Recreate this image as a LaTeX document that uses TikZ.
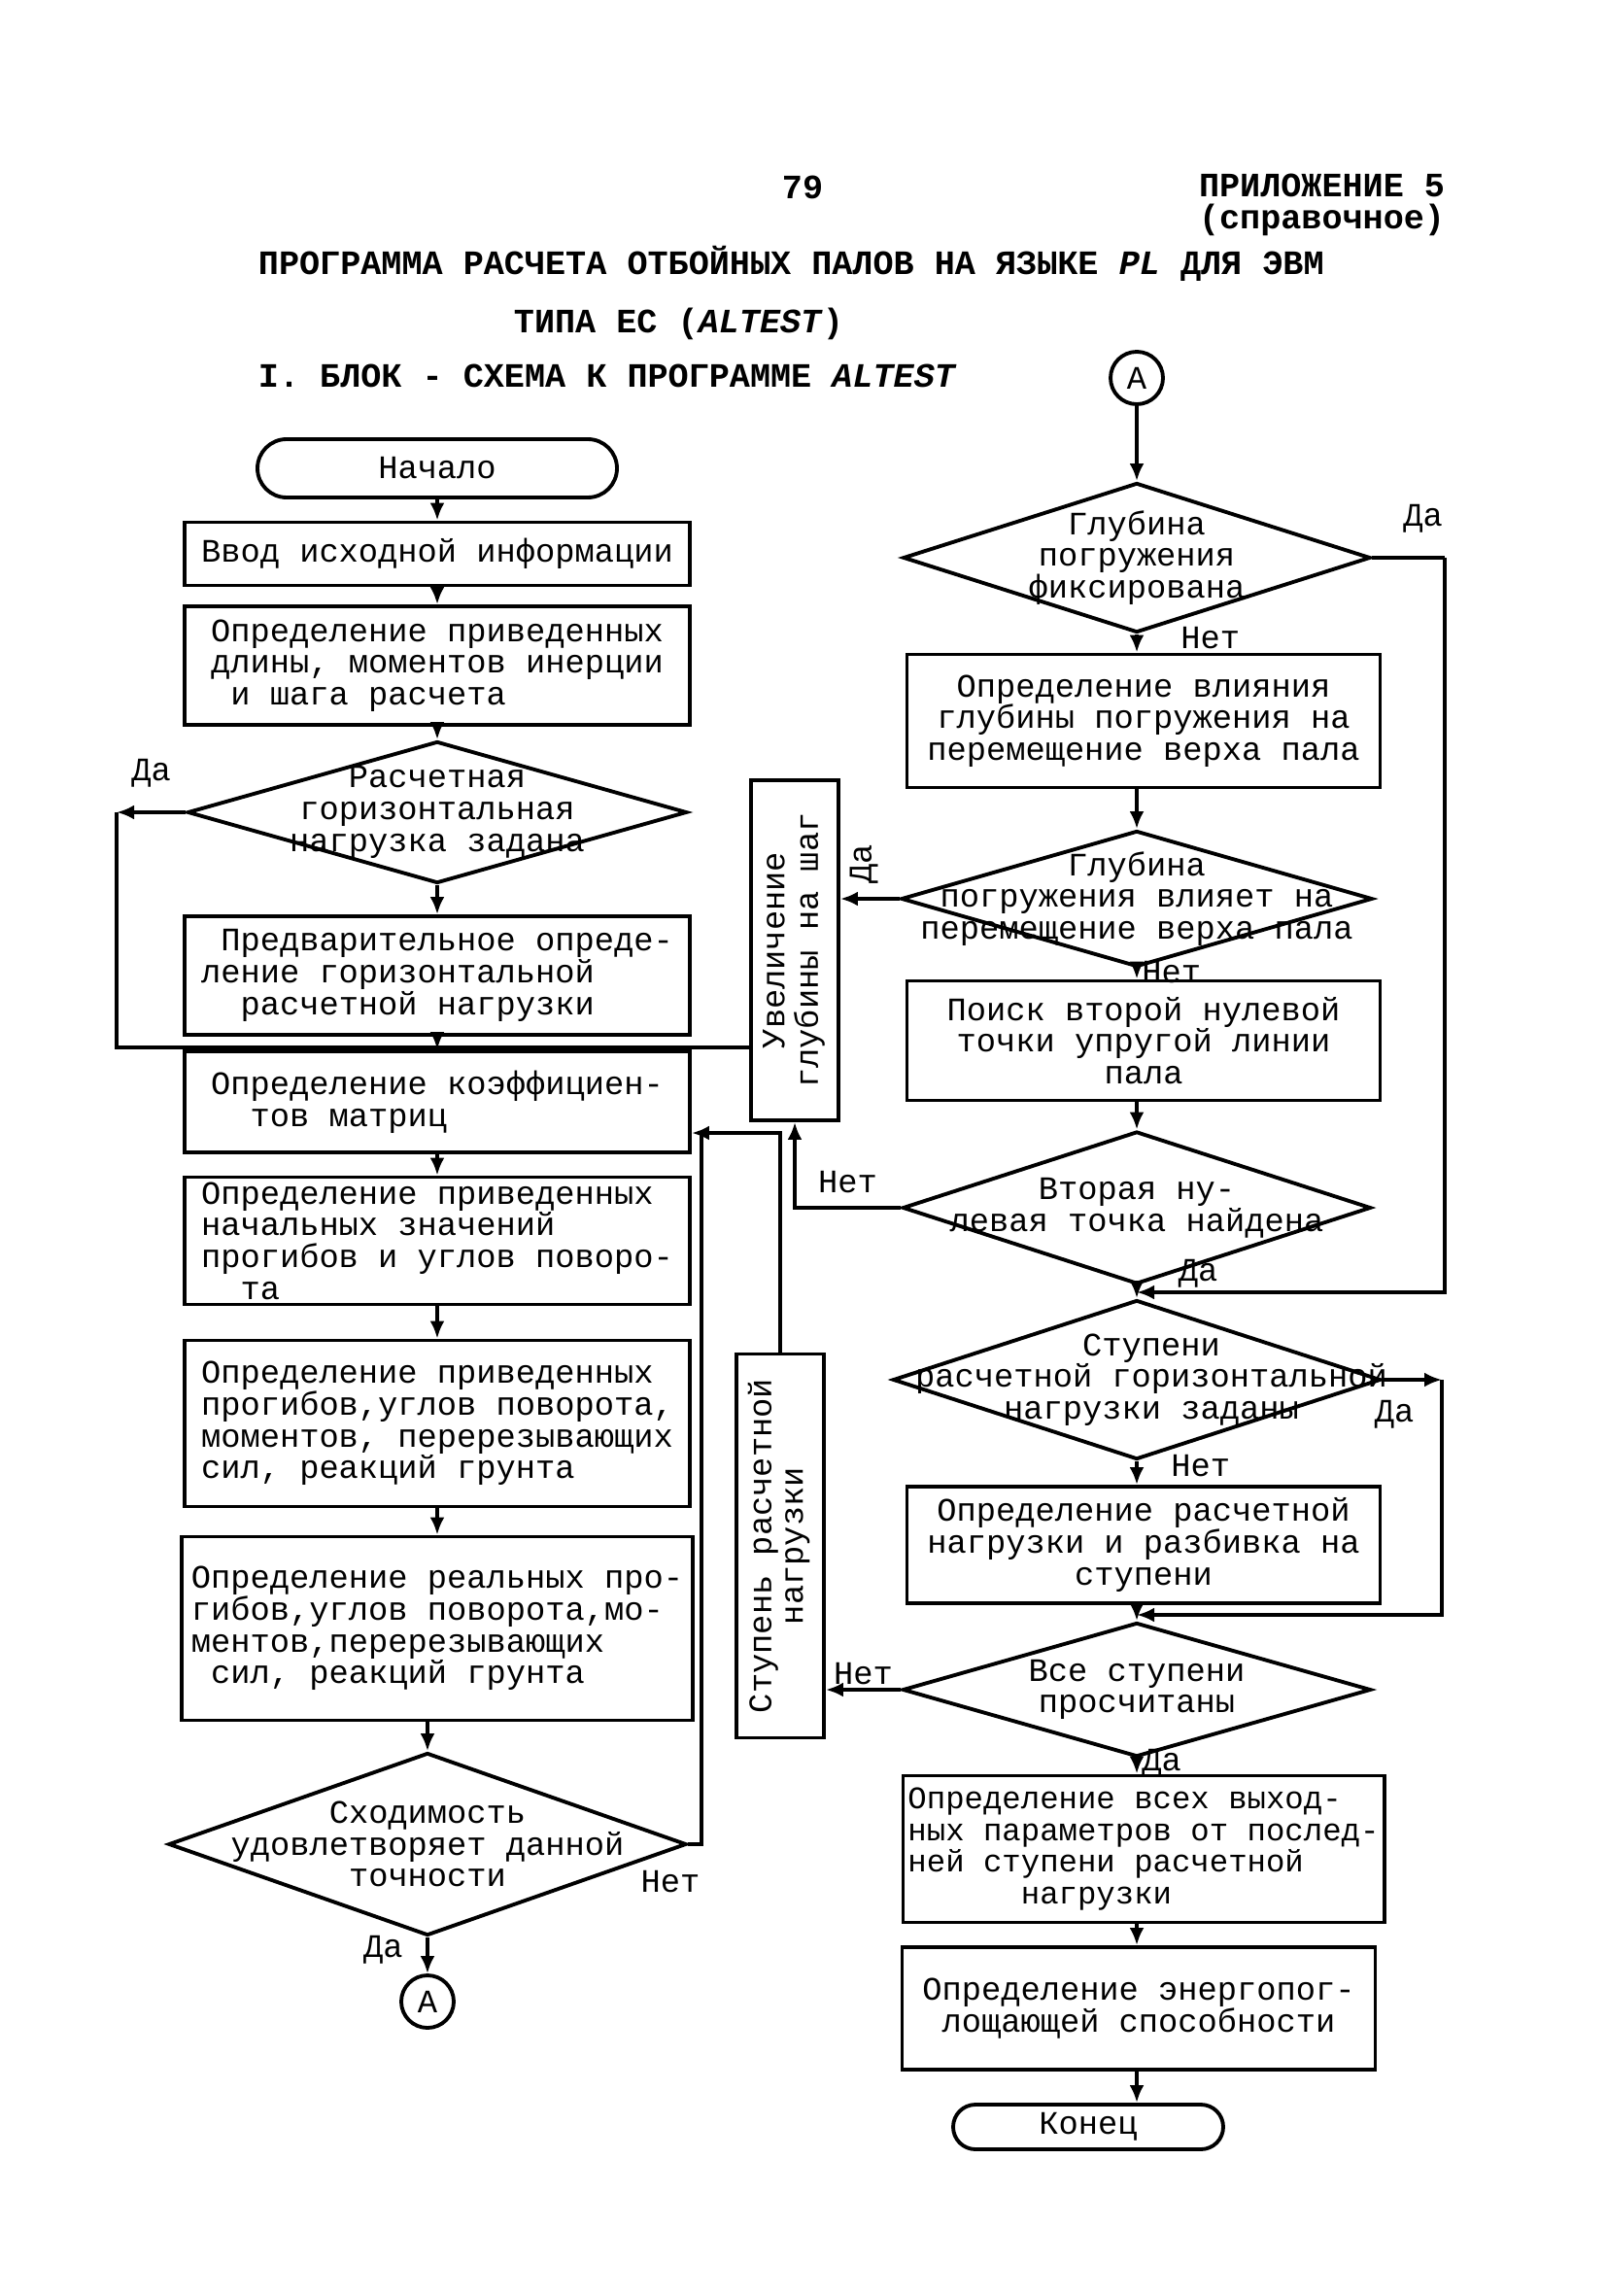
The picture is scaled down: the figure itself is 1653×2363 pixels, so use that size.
\documentclass[tikz,border=0pt]{standalone}
\usepackage{fontspec}
\usepackage{graphicx}
\setmainfont{Liberation Mono}
\usepackage{tikz}
\usetikzlibrary{shapes.geometric,shapes.misc,arrows.meta}
\usetikzlibrary{positioning}

\tikzset{
  block/.style={draw, minimum width=52mm, align=left, inner sep=1mm},
  rblock/.style={draw, minimum width=48.7mm, align=center, inner sep=1mm},
  decision/.style={draw, diamond, inner sep=0pt},
  dtext/.style={align=center, inner sep=0pt},
  term/.style={draw, rounded rectangle, inner sep=0pt},
  conn/.style={draw, circle, minimum size=5.4mm, inner sep=0pt},
  sidebox/.style={draw, minimum width=9mm, inner sep=0pt},
  hdr/.style={inner sep=0pt, font=\fontsize{10}{12}\selectfont\bfseries},
  lbl/.style={inner sep=1pt}
}
\newcommand{\vtext}[1]{\rotatebox{90}{\begin{tabular}{@{}c@{}}#1\end{tabular}}}

\begin{document}
\begin{tikzpicture}[x=0.1mm, y=-0.1mm, >={Latex[length=1.8mm,width=1.5mm]}, line width=1.1pt, font=\fontsize{9.6}{9.3}\selectfont]
\useasboundingbox (0,0) rectangle (1653,2363);

\node[hdr] (page) at (826,193) {79};
\node[hdr, anchor=east] (app) at (1489,191) {ПРИЛОЖЕНИЕ 5};
\node[hdr, anchor=east] (ref) at (1489,226) {(справочное)};
\node[hdr, anchor=west] (title) at (264,271) {ПРОГРАММА РАСЧЕТА ОТБОЙНЫХ ПАЛОВ НА ЯЗЫКЕ \textit{PL} ДЛЯ ЭВМ};
\node[hdr, anchor=west] (type) at (527,333) {ТИПА ЕС (\textit{ALTEST})};
\node[hdr, anchor=west] (sect) at (264,387) {I. БЛОК - СХЕМА К ПРОГРАММЕ \textit{ALTEST}};

% left column
\node[term, minimum width=37mm, minimum height=6mm] (start) at (450,482) {Начало};
\node[block, minimum height=6.5mm, align=center] (input) at (450,570) {Ввод исходной информации};
\node[block, minimum height=12.2mm] (reduce) at (450,685) {Определение приведенных\\длины, моментов инерции\\\ и шага расчета};
\node[decision, minimum width=51.4mm, minimum height=14.6mm] (qload) at (450,836) {};
\node[dtext] (qload-t) at (qload) {Расчетная\\горизонтальная\\нагрузка задана};
\node[block, minimum height=12.2mm] (pre) at (450,1004) {\ Предварительное опреде-\\ление горизонтальной\\\ \ расчетной нагрузки};
\node[block, minimum height=10.4mm] (coef) at (450,1134) {Определение коэффициен-\\\ \ тов матриц};
\node[block, minimum height=12.5mm, inner ysep=0.5mm] (init) at (450,1277) {Определение приведенных\\начальных значений\\прогибов и углов поворо-\\\ \ та};
\node[block, minimum height=17.1mm] (defl) at (450,1465) {Определение приведенных\\прогибов,углов поворота,\\моментов, перерезывающих\\сил, реакций грунта};
\node[block, minimum height=18.9mm] (real) at (450,1676) {Определение реальных про-\\гибов,углов поворота,мо-\\ментов,перерезывающих\\\ сил, реакций грунта};
\node[decision, minimum width=53.3mm, minimum height=18.8mm] (conv) at (440,1898) {};
\node[dtext] (conv-t) at (conv) {Сходимость\\удовлетворяет данной\\точности};
\node[conn] (A2) at (440,2060) {A};

% middle
\node[sidebox, minimum height=35mm] (deeper) at (818,978) {\vtext{Увеличение\\глубины на шаг}};
\node[sidebox, minimum height=39.5mm] (step) at (803,1591) {\vtext{Ступень расчетной\\нагрузки}};

% right column
\node[conn] (A1) at (1170,389) {A};
\node[decision, minimum width=48.1mm, minimum height=15.4mm] (qfix) at (1170,574) {};
\node[dtext] (qfix-t) at (qfix) {Глубина\\погружения\\фиксирована};
\node[rblock, minimum height=13.7mm] (infl) at (1177,742) {Определение влияния\\глубины погружения на\\перемещение верха пала};
\node[decision, minimum width=48.5mm, minimum height=14mm] (qinfl) at (1170,925) {};
\node[dtext] (qinfl-t) at (qinfl) {Глубина\\погружения влияет на\\перемещение верха пала};
\node[rblock, minimum height=12.3mm] (search) at (1177,1071) {Поиск второй нулевой\\точки упругой линии\\пала};
\node[decision, minimum width=48.2mm, minimum height=15.7mm] (qzero) at (1170,1243) {};
\node[dtext] (qzero-t) at (qzero) {Вторая ну-\\левая точка найдена};
\node[decision, minimum width=50.2mm, minimum height=16.4mm] (qsteps) at (1170,1420) {};
\node[dtext] (qsteps-t) at (1185,1420) {Ступени\\расчетной горизонтальной\\нагрузки заданы};
\node[rblock, minimum height=12mm] (split) at (1177,1590) {Определение расчетной\\нагрузки и разбивка на\\ступени};
\node[decision, minimum width=48.2mm, minimum height=13.8mm] (qall) at (1170,1739) {};
\node[dtext] (qall-t) at (qall) {Все ступени\\просчитаны};
\node[rblock, minimum height=15.1mm, align=left, inner sep=0.5mm, font=\fontsize{9.2}{9.3}\selectfont] (outp) at (1177,1903) {Определение всех выход-\\ных параметров от послед-\\ней ступени расчетной\\\hspace*{3.6em}нагрузки};
\node[rblock, minimum height=12.6mm] (energy) at (1172,2067) {Определение энергопог-\\лощающей способности};
\node[term, minimum width=27.8mm, minimum height=4.6mm] (end) at (1120,2189) {Конец};

\coordinate (daL) at (120,836);
\coordinate (mL) at (120,1078);
\coordinate (j1) at (773,1078);
\coordinate (cR) at (722,1166);
\coordinate (c1) at (1487,574);
\coordinate (m1) at (1170,1330);
\coordinate (c4) at (1484,1420);
\coordinate (m2) at (1170,1662);

\draw[->] (start) -- (input);
\draw[->] (input) -- (reduce);
\draw[->] (reduce) -- (qload);
\draw[->] (qload) -- (pre);
\draw[->] (qload.west) -- (daL) node[lbl, midway, above=2mm] {Да};
\draw (daL) -- (mL) -- (j1);
\draw[->] (pre) -- (coef);
\draw[->] (coef) -- (init);
\draw[->] (init) -- (defl);
\draw[->] (defl) -- (real);
\draw[->] (real.south -| conv.north) -- (conv.north);
\draw[->] (conv.south) -- (A2) node[lbl, pos=0.35, left=2mm] {Да};
\draw[->] (conv.east) -| (cR) -- (cR -| coef.east);
\node[lbl] (no-conv) at (690,1937) {Нет};
\draw (step.north) |- (cR);

\draw[->] (A1) -- (qfix.north);
\draw[->] (qfix.south) -- (qfix.south |- infl.north) node[lbl, pos=0.2, right=4mm] {Нет};
\draw (qfix.east) -- (c1) node[lbl, pos=0.7, above=2mm] {Да};
\draw[->] (c1) |- (m1);
\draw[->] (infl.south -| qinfl.north) -- (qinfl.north);
\draw[->] (qinfl.west) -- (qinfl.west -| deeper.east);
\node[lbl, rotate=90] (yes-infl) at (889,889) {Да};
\draw[->] (qinfl.south) -- (qinfl.south |- search.north) node[lbl, pos=0.3, right] {Нет};
\draw[->] (search.south -| qzero.north) -- (qzero.north);
\draw[->] (qzero.west) -| (deeper.south) node[lbl, pos=0.25, above=1mm] {Нет};
\draw[->] (qzero.south) -- (qsteps.north);
\node[lbl] (yes-zero) at (1233,1311) {Да};
\draw[->] (qsteps.east) -- (c4);
\draw[->] (c4) |- (m2);
\node[lbl] (yes-steps) at (1435,1456) {Да};
\draw[->] (qsteps.south) -- (qsteps.south |- split.north) node[lbl, pos=0.2, right=3mm] {Нет};
\draw[->] (split.south -| qall.north) -- (qall.north);
\draw[->] (qall.west) -- (qall.west -| step.east) node[lbl, midway, above] {Нет};
\draw[->] (qall.south) -- (qall.south |- outp.north) node[lbl, pos=0.3, right] {Да};
\draw[->] (outp.south -| qall.south) -- (qall.south |- energy.north);
\draw[->] (energy.south -| qall.south) -- (qall.south |- end.north);
\end{tikzpicture}
\end{document}
